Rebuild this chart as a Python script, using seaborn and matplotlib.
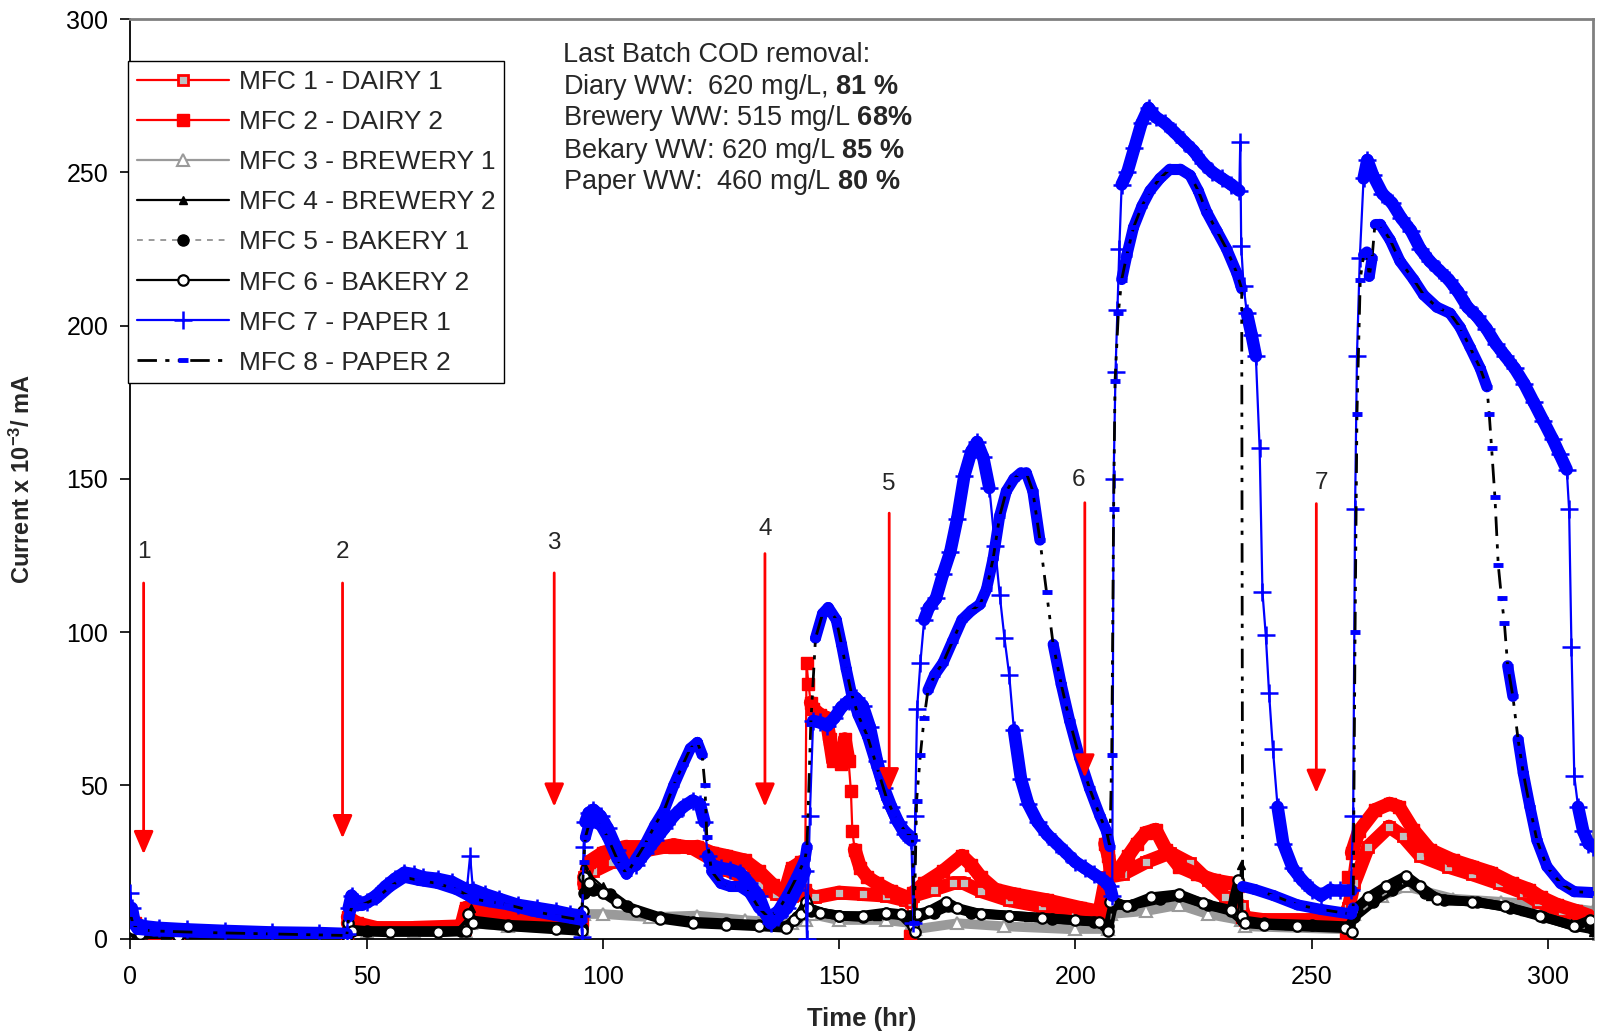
import numpy as np
import matplotlib
matplotlib.use("Agg")
import matplotlib.pyplot as plt
from matplotlib.lines import Line2D
from matplotlib.collections import LineCollection
import seaborn as sns

# ---------------- data ----------------
mfc7_t = [0, 0.3, 0.8, 1.5, 3, 6, 12, 20, 30, 40, 45.8,
          46.2, 46.8, 48, 50, 52, 54, 56, 58, 60, 62, 65, 68, 71.2, 71.9, 72.5, 75, 78, 82, 86, 90, 93, 95.3, 95.6,
          95.9, 96.3, 97, 98, 99.5, 101, 103, 105, 107, 109, 111, 113, 115, 117, 119, 120.5, 121.5, 122.2, 123, 125,
          127, 129, 131, 133, 134.5, 135.5, 137, 139, 141, 142.8,
          143.2, 143.8, 144.5, 146, 147.5, 149, 150.5, 152, 153.5, 155, 156.5, 158, 159.5, 161, 162.5, 164, 165.3, 165.7,
          166.1, 166.5, 167.2, 168, 169, 170.5, 172, 173.5, 175, 176.5, 178, 179.2, 180.5, 181.8, 183, 184, 185, 186,
          187, 188.5, 190, 192, 194, 196, 198, 200, 202, 204, 206, 207.3, 207.8,
          208.1, 208.5, 208.9, 209.3, 209.8, 211, 212.5, 214, 215.5, 217, 219, 221, 223, 225, 227, 229, 231, 233,
          234.7, 234.9, 235.1, 235.6, 236.3, 237.3, 238.2, 239, 239.6, 240.3, 241, 241.8, 242.8, 244, 246, 248, 250,
          252, 254, 256, 258.3,
          258.8, 259.2, 259.6, 260.2, 261, 261.8, 263, 265, 267, 269, 271, 273, 275, 277, 279, 281, 283, 285, 287,
          289, 291, 293, 295, 297, 299, 301, 302.5, 304, 304.5, 305, 305.6, 306.4, 307.5, 308.6, 309.5]
mfc7_v = [15, 10, 6, 4.5, 4, 3.5, 3, 2.5, 2, 1.8, 1.5,
          10, 14, 12, 12, 14, 17, 19.5, 21.5, 21, 20, 19.5, 18.5, 16, 27, 16, 14.5, 13, 11, 10, 9, 8, 7.5, 0.5,
          30, 38, 41, 42, 40, 36, 29, 23, 24, 28, 32, 36, 40, 43, 45, 44, 38, 27, 24, 23,
          22.5, 21.5, 18, 14, 8, 5, 7, 10, 16, 22,
          0, 40, 71, 70.5, 69.5, 72, 75.5, 77.5, 78.5, 76, 69, 58, 49, 43, 38, 34, 32, 5,
          40, 75, 90, 104, 108, 111, 119, 126, 137, 151, 159, 162, 157, 147, 128, 112, 98, 86,
          68, 52, 44, 38, 34, 31, 28, 25, 23, 21, 19, 17, 14,
          150, 185, 205, 225, 246, 250, 258, 266, 271, 268, 266, 263, 260, 257, 253, 250, 248, 246,
          244, 260, 226, 213, 204, 197, 190, 160, 113, 99, 80, 62, 43, 31, 23, 19, 16,
          14, 16, 16, 16,
          40, 140, 190, 222, 248, 254, 249, 243, 240, 235, 231, 225, 221, 218, 215, 211, 206, 203, 199,
          194, 190, 186, 181, 175, 169, 163, 158, 153, 140, 95, 53, 43, 35, 31, 30]

mfc8_t = [0, 0.5, 1.5, 5, 15, 30, 45.8,
          46.2, 47, 49, 52, 55, 58, 61, 65, 69, 71.5, 72.5, 76, 80, 85, 90, 95.5,
          95.9, 96.3, 97, 98, 99.5, 101, 103, 105, 107, 109, 111, 113, 115, 117, 118.5, 120, 121, 121.6, 122, 123,
          125, 127, 129, 131, 133, 135, 137, 139, 141, 142.8,
          143.2, 144, 145, 146.5, 147.7, 149.4, 150.5, 151.5, 152.6, 154, 156, 158, 160, 162, 164, 165.5, 165.9,
          166.4, 167.2, 168, 168.8, 170.2, 172, 174, 176, 178, 179.8, 181.2, 182.6, 184, 185.4, 187, 188.5, 189.6,
          191, 192.5, 193.9, 195.3, 197, 198.8, 200.9, 203, 205.2, 206.6, 207.3,
          207.7, 208.1, 208.4, 209.1, 209.8, 210.9, 212.3, 214.1, 215.8, 217.9, 220, 222.2, 224.3, 226, 227.8,
          229.9, 232, 234.2, 235.2, 235.4, 238, 242, 247, 252, 258.4,
          258.8, 259.2, 259.6, 260.3, 261, 261.7, 262.2, 262.8, 263.4, 264.5, 266.6, 268.7, 271.6, 273.7, 276.5,
          279.3, 281.4, 283.5, 285.7, 287.1, 287.6, 288.1, 288.8, 289.5, 290.2, 290.8, 291.5, 292.6, 293.7, 294.8,
          296.2, 297.7, 299.8, 302.7, 305.6, 309.5]
mfc8_v = [8, 5, 3, 2.5, 2, 1.5, 1,
          7, 11, 11, 13, 17, 20, 19, 18, 16, 14, 13, 12, 11, 9, 7.5, 6,
          25, 33, 37, 38, 37, 33, 26, 21, 26, 31, 37, 42, 50, 57, 62, 64, 60, 50, 33, 22,
          18, 17, 17, 15, 10, 7, 9, 14, 20, 26,
          30, 70, 98, 106, 108, 104, 96, 88, 80, 73, 66, 56, 46, 39, 35, 33, 5,
          45, 60, 72, 81, 86, 90, 97, 104, 107, 109, 114, 124, 138, 146, 150, 152, 152,
          146, 130, 113, 96, 83, 71, 59, 49, 40, 35, 30,
          60, 140, 182, 204, 215, 223, 232, 239, 244, 248, 251, 251, 249, 244, 237,
          231, 225, 217, 212, 17, 16, 14, 11, 9.5, 8,
          10, 100, 171, 215, 223, 224, 216, 222, 233, 233, 228, 221, 215, 210, 206,
          204, 199.5, 193, 186, 180, 171, 160, 144, 122, 111, 103, 89, 79, 65, 54,
          43, 32, 23.5, 18, 15.3, 15]

mfc2_t = [0, 1, 3, 10, 45.8,
          46, 48, 52, 60, 70, 71, 74, 80, 88, 95.5,
          96, 97, 100, 105, 110, 115, 120, 123, 126, 130, 133, 136, 138.5, 140, 142, 142.8,
          143.1, 143.5, 144, 144.5, 146, 147.3, 148, 148.7, 149.4, 150.3, 151.2, 152, 152.5, 152.8, 153.3, 154.5,
          156, 158, 161, 164.3, 165,
          165.7, 168, 172, 176, 178, 180, 183, 187, 194, 201, 206,
          206.3, 207, 207.6, 209, 211.2, 213, 214.9, 217, 219.2, 222, 225.7, 229.4, 233, 234.5, 235.2, 240, 250,
          256.8, 257.2,
          257.8, 258.5, 260, 263.5, 266.5, 268.5, 271.5, 275, 280, 284, 288, 292.5, 296, 298.5, 302, 306, 309.5]
mfc2_v = [6, 5, 2, 1, 1,
          7, 5, 3.5, 3.5, 4, 10, 9, 7, 6, 6,
          18, 25, 28, 30, 30, 30, 30, 28, 27, 25.5, 22, 17.5, 15, 23, 25, 16,
          90, 83, 77, 75, 73, 72, 65, 58, 62, 57, 65, 58, 48, 35, 29, 23,
          20, 18, 15.5, 13.5, 1,
          15, 18, 22, 27, 24, 20, 16, 14.5, 12.5, 10, 8.5,
          31, 27, 21, 22, 27, 31, 34.5, 35.5, 29, 23.5, 21, 19, 18, 17, 7, 6, 6,
          6, 0.5,
          20, 28, 35, 42, 44, 43, 35.5, 29, 25.5, 23.5, 21.5, 18, 16, 13.5, 11, 9, 7]

mfc1_t = [0, 1, 5, 45.8,
          46, 48, 60, 70.8, 71.2, 75, 85, 95.5,
          96, 98, 102, 108, 115, 119, 123, 126, 129.7, 133, 136.7, 140, 143,
          145, 150, 155, 160, 164, 165.3,
          165.7, 170, 174, 176.5, 180, 186, 193, 200, 205,
          206.5, 210, 215, 220, 224.3, 228, 231.6, 235.2, 236, 245, 256,
          257.8, 259, 262, 266.4, 269.3, 273, 278.8, 284, 289.7, 294.8, 298, 303, 309.5]
mfc1_v = [4, 3, 1.5, 1,
          5, 3, 3, 3, 8, 7.5, 6, 5,
          20, 22, 25, 28.5, 30.5, 29.5, 26, 22.5, 20, 17.5, 14.5, 14, 14.5,
          13.5, 15, 14.5, 14, 12.5, 12,
          14, 16, 18, 18, 15.5, 12.5, 10.5, 9, 8,
          20, 21, 25, 28, 24.5, 19, 13.7, 10.5, 6, 5.5, 5.5,
          10, 18, 30, 36.5, 33.5, 27, 23.5, 21, 18, 15, 12, 9, 7]

mfc3_t = [0, 1, 10, 45.8,
          46, 50, 60, 71, 72, 80, 95.5,
          96, 100, 110, 120, 130, 140, 143,
          144, 150, 160, 165.5,
          166, 175, 185, 200, 207,
          207.5, 215, 222, 228, 235, 236, 258,
          259, 265, 270, 280, 290, 300, 309.5]
mfc3_v = [3, 0.8, 0.5, 0.5,
          3, 2, 2, 2, 5, 4, 3,
          8, 8, 7, 7.5, 6, 5, 6,
          8, 6, 6, 5,
          3, 5, 4, 3, 3,
          8, 9, 11, 8, 6, 4, 3,
          8, 14, 17, 13, 12, 11, 9]

mfc4_t = [0, 1, 45.8,
          46, 50, 71, 72, 73, 85, 95.5,
          96, 97, 100, 104, 110, 118, 126, 134, 139, 143.3,
          144, 150, 158, 165.5,
          166, 172, 180, 190, 200, 207,
          207.5, 212, 218, 223, 229, 234.5, 235.1, 235.4, 245, 258,
          259, 264, 270, 275, 285, 295, 305, 309.5]
mfc4_v = [4, 1, 0.5,
          3, 2, 2, 10, 6, 4, 3,
          24, 21, 17, 12, 8, 6, 5, 4.5, 4, 14,
          11, 8, 7.5, 6,
          9, 11, 8, 7, 6, 5,
          14, 11, 13, 14, 10.5, 8, 24, 6, 4.5, 4,
          10, 15, 19, 14, 12, 9, 5, 2]

mfc5_t = [0, 1, 10, 45.8,
          46, 50, 70, 72, 80, 95.5,
          96, 98, 101.5, 105, 112, 119, 126, 133, 139, 141, 143,
          144, 150, 155, 160, 165,
          166.5, 170, 173, 178, 186, 195, 204, 207,
          208, 212, 218, 222, 228, 233, 235.3, 240, 250, 258,
          259, 263, 267, 270.5, 274, 278, 285, 292, 299, 306, 309.5]
mfc5_v = [3, 2, 1, 1,
          3, 2.5, 2.5, 6, 4.5, 3.5,
          15, 16, 14.5, 10.5, 7, 5.5, 5, 4.5, 4, 7, 10,
          9, 7.5, 7, 8, 7.5,
          7, 8.5, 10.5, 8.5, 7.5, 6.5, 5.5, 4,
          11, 11, 13, 14, 11, 9, 6, 5, 4.5, 4,
          7, 12, 16, 19, 15, 12.5, 12, 10, 7, 4, 3]

mfc6_t = [0, 0.5, 2, 10, 45.8,
          46, 47, 55, 65, 71, 71.5, 72.5, 80, 90, 95.5, 95.7,
          96, 97, 100, 103, 107, 112, 119, 126, 133, 138.8, 140.5, 142, 143,
          143.5, 146, 150, 155, 160, 163, 165.6,
          166, 166.5, 169, 172.7, 175, 180, 186, 193, 200, 205, 207,
          207.4, 211, 216, 222, 227, 233, 234.5, 235.2, 236, 240, 247, 257, 258.5,
          258.8, 262, 265.7, 270, 273, 276.6, 283.9, 291, 298.4, 305.6, 308.9]
mfc6_v = [5, 3, 1.5, 1, 0.8,
          5, 2.5, 2, 2, 2.5, 8, 5, 4, 3, 2.5, 9,
          20, 18, 15, 12, 9, 6.5, 5, 4.5, 4, 3.5, 6, 8, 12,
          10, 8.5, 7.5, 7.5, 8.5, 8, 4,
          2, 8, 9, 12, 10, 8, 7.5, 6.8, 6, 5.5, 2.5,
          12, 10.5, 13.5, 14.5, 11.5, 9.3, 19, 7.5, 5, 4.5, 4, 3.4, 2,
          9, 13.5, 17, 20.5, 17, 13, 12, 10.5, 7.5, 4, 6]

# feeding arrows
arrow_labels = ["1", "2", "3", "4", "5", "6", "7"]
arrow_t = [2.8, 44.9, 89.7, 134.3, 160.6, 202.0, 251.0]
arrow_top = [116, 116, 119.3, 125.6, 138.8, 142.2, 141.9]
arrow_tip = [27.5, 32.7, 43, 43, 48, 52.5, 47.5]
arrow_label_v = [126, 126, 129, 133.6, 148.4, 149.5, 148.5]
arrow_label_dt = [0, 0, 0, 0, 0, -1.3, 1.2]

legend_labels = ["MFC 1 - DAIRY 1", "MFC 2 - DAIRY 2", "MFC 3 - BREWERY 1", "MFC 4 - BREWERY 2",
                 "MFC 5 - BAKERY 1", "MFC 6 - BAKERY 2", "MFC 7 - PAPER 1", "MFC 8 - PAPER 2"]

note_lines = ["Last Batch COD removal:",
              r"Diary WW:  620 mg/L, $\mathbf{81\ \%}$",
              r"Brewery WW: 515 mg/L $\mathbf{68\%}$",
              r"Bekary WW: 620 mg/L $\mathbf{85\ \%}$",
              r"Paper WW:  460 mg/L $\mathbf{80\ \%}$"]

# ---------------- styling ----------------
sns.set_style("white")
plt.rcParams['font.family'] = ['Liberation Sans', 'DejaVu Sans']
plt.rcParams['mathtext.fontset'] = 'custom'
plt.rcParams['mathtext.rm'] = 'Liberation Sans'
plt.rcParams['mathtext.it'] = 'Liberation Sans:italic'
plt.rcParams['mathtext.bf'] = 'Liberation Sans:bold'

RED = '#FF0000'
BLUE = '#0000FF'
GRAY = '#9A9A9A'

fig = plt.figure(figsize=(15.98, 10.33), dpi=100)
ax = fig.add_axes([0.0816, 0.0914, 0.9151, 0.8902])
ax.set_xlim(0, 309.5)
ax.set_ylim(0, 300)


def band(t, v, color, lw, z):
    pts = ax.transData.transform(np.column_stack([t, v]))
    segs = []
    for i in range(len(t) - 1):
        dx = abs(pts[i + 1, 0] - pts[i, 0])
        dy = abs(pts[i + 1, 1] - pts[i, 1])
        if dy > 7.0 * dx and dy > 12:
            continue
        segs.append([(t[i], v[i]), (t[i + 1], v[i + 1])])
    lc = LineCollection(segs, colors=color, linewidths=lw, capstyle='round',
                        joinstyle='round', zorder=z)
    ax.add_collection(lc)


def series(t, v, z, band_color=None, band_lw=0, **kw):
    if band_color is not None:
        band(t, v, band_color, band_lw, z)
    sns.lineplot(x=t, y=v, ax=ax, estimator=None, sort=False, legend=False,
                 zorder=z + 0.5, **kw)


styles = [
    dict(color=RED, lw=1.6, ls='-', marker='s', ms=7.5, mfc='#C0C0C0', mec=RED, mew=2.0),
    dict(color=RED, lw=1.6, ls='-', marker='s', ms=9, mfc=RED, mec=RED, mew=1),
    dict(color=GRAY, lw=1.6, ls='-', marker='^', ms=9, mfc='white', mec=GRAY, mew=1.5),
    dict(color='black', lw=1.6, ls='-', marker='^', ms=6, mfc='black', mec='black', mew=1),
    dict(color=GRAY, lw=1.4, ls=(0, (3, 3)), marker='o', ms=8, mfc='black', mec='black', mew=1),
    dict(color='black', lw=1.6, ls='-', marker='o', ms=7.5, mfc='white', mec='black', mew=1.6),
    dict(color=BLUE, lw=1.6, ls='-', marker='+', ms=13, mfc=BLUE, mec=BLUE, mew=1.8),
    dict(color='black', lw=2.0, ls=(0, (7, 3, 1.5, 3, 1.5, 3)), marker='_', ms=7, mfc=BLUE, mec=BLUE, mew=3.5),
]

series(mfc3_t, mfc3_v, 2, GRAY, 7, **styles[2])
series(mfc1_t, mfc1_v, 3, RED, 10, **styles[0])
series(mfc2_t, mfc2_v, 4, RED, 10, **styles[1])
series(mfc4_t, mfc4_v, 5, None, 0, **styles[3])
series(mfc5_t, mfc5_v, 6, 'black', 7, **styles[4])
series(mfc6_t, mfc6_v, 7, 'black', 7, **styles[5])
series(mfc7_t, mfc7_v, 8, BLUE, 9, **styles[6])
series(mfc8_t, mfc8_v, 9, BLUE, 8, **styles[7])

# arrows
for lab, t, top, tip, lv, dt in zip(arrow_labels, arrow_t, arrow_top, arrow_tip, arrow_label_v, arrow_label_dt):
    ax.annotate('', xy=(t, tip), xytext=(t, top),
                arrowprops=dict(arrowstyle='-|>,head_length=0.7,head_width=0.3', color=RED, lw=2,
                                shrinkA=0, shrinkB=0, mutation_scale=20), zorder=12)
    ax.text(t + dt, lv, lab, ha='center', va='center', fontsize=17.5, zorder=12)

# note text
note_v = [288.2, 277.9, 267.6, 257.1, 246.8]
for s, yv in zip(note_lines, note_v):
    ax.text(91.5, yv, s, ha='left', va='center', fontsize=19.5, zorder=12)

# legend
handles = []
for st, lab in zip(styles, legend_labels):
    handles.append(Line2D([], [], color=st['color'], lw=st['lw'], ls=st['ls'], marker=st['marker'],
                          ms=st['ms'], mfc=st['mfc'], mec=st['mec'], mew=st['mew'], label=lab))
leg = ax.legend(handles=handles, loc='upper left', bbox_to_anchor=(-0.0014, 0.954), borderaxespad=0,
                fontsize=19, frameon=True, fancybox=False, framealpha=1, edgecolor='black',
                handlelength=3.5, handletextpad=0.35, labelspacing=0.61, borderpad=0.33, numpoints=1)
leg.get_frame().set_linewidth(1.0)
leg.set_zorder(20)

# axes / ticks
ax.set_xticks(np.arange(0, 301, 50))
ax.set_yticks(np.arange(0, 301, 50))
ax.tick_params(axis='both', direction='out', length=7, width=1.2, labelsize=18, colors='black',
               left=True, bottom=True)
ax.tick_params(axis='y', pad=9)
ax.tick_params(axis='x', pad=12)
for side in ['left', 'bottom']:
    ax.spines[side].set_color('black')
    ax.spines[side].set_linewidth(1.3)
for side in ['top', 'right']:
    ax.spines[side].set_color('#808080')
    ax.spines[side].set_linewidth(2)

ax.set_xlabel('Time (hr)', fontsize=18.5, fontweight='bold')
ax.set_ylabel(r'Current x 10$^{\mathbf{-3}}$/ mA', fontsize=17, fontweight='bold')
ax.xaxis.set_label_coords(0.5, -0.0874)
ax.xaxis.label.set_va('center')
ax.yaxis.set_label_coords(-0.0739, 0.5)
ax.yaxis.label.set_va('center')

fig.savefig('out.png', dpi=100)
